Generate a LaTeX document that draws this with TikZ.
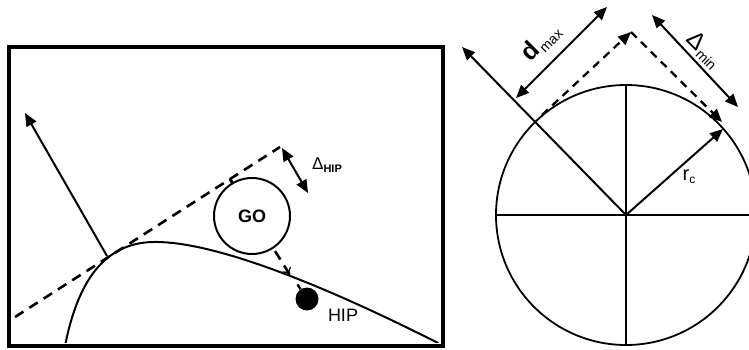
\documentclass[tikz,border=0pt]{standalone}
\usepackage{fontspec}
\setmainfont{Liberation Sans}
\usetikzlibrary{arrows.meta,calc}
\begin{document}
\begin{tikzpicture}[x=1pt,y=-1pt,
  solidline/.style={line width=2pt},
  dashline/.style={line width=2.6pt,dash pattern=on 10pt off 7pt},
  dashlineR/.style={line width=2.3pt,dash pattern=on 8pt off 6pt},
  tip/.style={-{Triangle[length=13pt,width=11pt]}},
  dtip/.style={{Triangle[length=13pt,width=11pt]}-{Triangle[length=13pt,width=11pt]}},
  lbl/.style={inner sep=0pt,font=\fontsize{18}{18}\selectfont}
]
\useasboundingbox (0,0) rectangle (749,350);
% ---------------- left panel ----------------
\node[draw,line width=4pt,minimum width=434pt,minimum height=299pt,inner sep=0pt,anchor=north west] (frame) at (6.5,45) {};
\begin{scope}
\clip (8.5,47) rectangle (438.5,342);
\draw[solidline] (65,346) .. controls (78,280) and (105,243) .. (153,242)
   .. controls (200,241) and (290,268) .. (440,344);
\end{scope}
\coordinate (nb) at (107,256);
\coordinate (nt) at (25,113);
\draw[solidline,tip] (nb) -- (nt);
\coordinate (t1) at (15,317);
\coordinate (t2) at (280,147);
\draw[dashline] (t1) -- (t2);
\coordinate (foot) at (230,179);
\coordinate (cross) at (290,275);
\draw[dashline,-{To[length=7pt,width=10pt,line width=1.2pt]}] (foot) -- (cross);
\node[circle,fill=black,minimum size=23pt,inner sep=0pt] (hip) at (307,299) {};
\draw[line width=2.4pt] (297.5,284.5) -- (hip);
\node[circle,draw,fill=white,line width=2pt,minimum size=76pt,inner sep=0pt,font=\fontsize{18}{18}\selectfont\bfseries] (go) at (252,216) {GO};
\draw[dashline] (foot) -- ($(foot)!0.09!(go.center)$);
\coordinate (da) at (282,148);
\coordinate (db) at (308,193);
\draw[solidline,dtip] (da) -- (db);
\node[inner sep=0pt] (dhip) at (327,165) {\fontsize{17}{17}\selectfont Δ\raisebox{-3pt}{\fontsize{11}{11}\selectfont\bfseries HIP}};
\node[lbl] (hiplbl) at (343,315) {HIP};
% ---------------- right panel ----------------
\coordinate (c) at (626,215);
\draw[line width=1.8pt] (c) circle[radius=130];
\coordinate (ctop) at (626,85);
\coordinate (cbot) at (626,345);
\coordinate (cleft) at (496,215);
\coordinate (cright) at (760,215);
\draw[solidline] (ctop) -- (cbot);
\draw[solidline] (cleft) -- (cright);
\coordinate (rc) at (723,129);
\draw[solidline,tip] (c) -- (rc);
\node[lbl,font=\fontsize{20}{20}\selectfont] (rclbl) at (689,177) {r\raisebox{-3pt}{\fontsize{12}{12}\selectfont c}};
\coordinate (nt2) at (462,47);
\draw[solidline,tip] (c) -- (nt2);
\coordinate (p1) at (542,115);
\coordinate (apex) at (631,32);
\coordinate (p2) at (722,122);
\draw[dashlineR,tip] (p1) -- (apex);
\draw[dashlineR,tip] (apex) -- (p2);
\coordinate (dm1) at (516,98);
\coordinate (dm2) at (607,7);
\draw[solidline,dtip] (dm1) -- (dm2);
\node[inner sep=0pt,rotate=45] (dmax) at (541,42) {\fontsize{25}{25}\selectfont\bfseries d\kern1pt\raisebox{-4pt}{\fontsize{14}{14}\selectfont\mdseries max}};
\coordinate (dn1) at (652,15);
\coordinate (dn2) at (738,107);
\draw[solidline,dtip] (dn1) -- (dn2);
\node[inner sep=0pt,rotate=-45] (dmin) at (704,50) {\fontsize{24}{24}\selectfont Δ\kern1pt\raisebox{-4pt}{\fontsize{14}{14}\selectfont min}};
\end{tikzpicture}
\end{document}
